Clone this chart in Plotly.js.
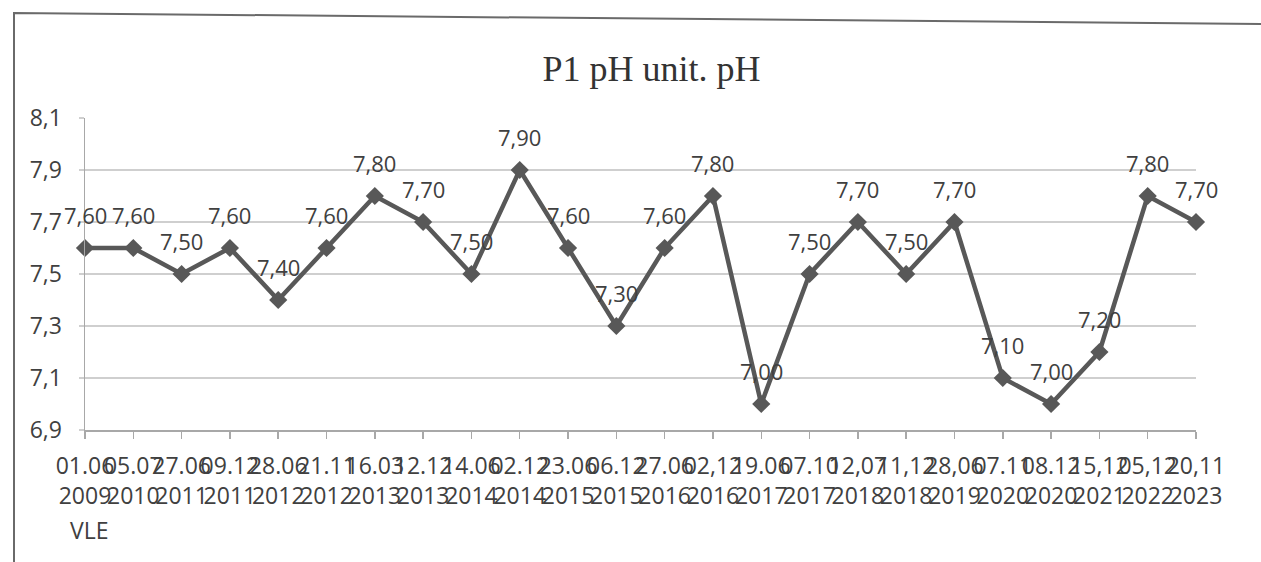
<!DOCTYPE html>
<html>
<head>
<meta charset="utf-8">
<script src="https://cdn.plot.ly/plotly-3.0.1.min.js"></script>
<style>html,body{margin:0;padding:0;background:#fff;}#chart{width:1261px;height:562px;}</style>
</head>
<body>
<div id="chart"></div>
<script>
const dates = ["01.06","05.07","27.06","09.12","28.06","21.11","16.03","12.12","14.06","02.12","23.06","06.12","27.06","02,12","19.06","07.10","12,07","11,12","28,06","07.11","08.12","15,12","05,12","20,11"];
const years = ["2009","2010","2011","2011","2012","2012","2013","2013","2014","2014","2015","2015","2016","2016","2017","2017","2018","2018","2019","2020","2020","2021","2022","2023"];
const phValues = [7.6,7.6,7.5,7.6,7.4,7.6,7.8,7.7,7.5,7.9,7.6,7.3,7.6,7.8,7.0,7.5,7.7,7.5,7.7,7.1,7.0,7.2,7.8,7.7];
const yTicks = [6.9,7.1,7.3,7.5,7.7,7.9,8.1];
const titleText = "P1 pH unit. pH";
const footText = "VLE";

const categories = dates.map((d,i)=> d + "<br>" + years[i]);

const trace = {
  x: categories,
  y: phValues,
  type: "scatter",
  mode: "lines+markers",
  cliponaxis: false,
  line: {color: "#585858", width: 4.5},
  marker: {symbol: "diamond", size: 14, color: "#585858"},
  hoverinfo: "skip"
};

const pxX = p => (p - 85) / 1111;
const pxY = p => (430 - p) / 312;

const annotations = phValues.map((v,i)=>({
  x: categories[i], y: v, xref: "x", yref: "y",
  text: v.toFixed(2).replace(".", ","),
  showarrow: false, yshift: 33, xanchor: "center", yanchor: "middle",
  font: {family: "Open Sans", size: 22, color: "#404040"}
}));
annotations.push({
  x: pxX(68), y: pxY(530), xref: "paper", yref: "paper",
  text: footText, showarrow: false, xanchor: "left", yanchor: "middle",
  font: {family: "Open Sans", size: 23, color: "#404040"}
});

const layout = {
  width: 1261, height: 562,
  margin: {l: 85, r: 65, t: 118, b: 132},
  paper_bgcolor: "#fff", plot_bgcolor: "#fff",
  separators: ", ",
  showlegend: false,
  title: {
    text: titleText, x: 0.51, xref: "paper", y: 1 - 68/562, yref: "container",
    xanchor: "center", yanchor: "middle",
    font: {family: "Liberation Serif", size: 36, color: "#333333"}
  },
  xaxis: {
    type: "category", range: [0, categories.length - 1],
    showgrid: false, zeroline: false,
    showline: true, linecolor: "#a8a8a8", linewidth: 1.5,
    ticks: "outside", ticklen: 7, tickcolor: "#a8a8a8", tickwidth: 1.5,
    tickangle: 0, ticklabelstandoff: 8,
    tickfont: {family: "Open Sans", size: 23, color: "#404040"}
  },
  yaxis: {
    range: [6.9, 8.1], tickvals: yTicks, tickformat: ".1f",
    showgrid: true, gridcolor: "#cfcfcf", gridwidth: 1.5,
    zeroline: false, showline: true, linecolor: "#a8a8a8", linewidth: 1.5,
    ticks: "outside", ticklen: 5, tickcolor: "#cfcfcf", tickwidth: 1.5,
    ticklabelstandoff: 12,
    tickfont: {family: "Open Sans", size: 23, color: "#404040"}
  },
  annotations: annotations,
  shapes: [{
    type: "path", xref: "paper", yref: "paper",
    path: `M ${pxX(14)} ${pxY(562)} L ${pxX(14)} ${pxY(13)} L ${pxX(1261)} ${pxY(24)}`,
    line: {color: "#6a6a6a", width: 2}
  }]
};

Plotly.newPlot("chart", [trace], layout, {displayModeBar: false, staticPlot: true});
</script>
</body>
</html>
